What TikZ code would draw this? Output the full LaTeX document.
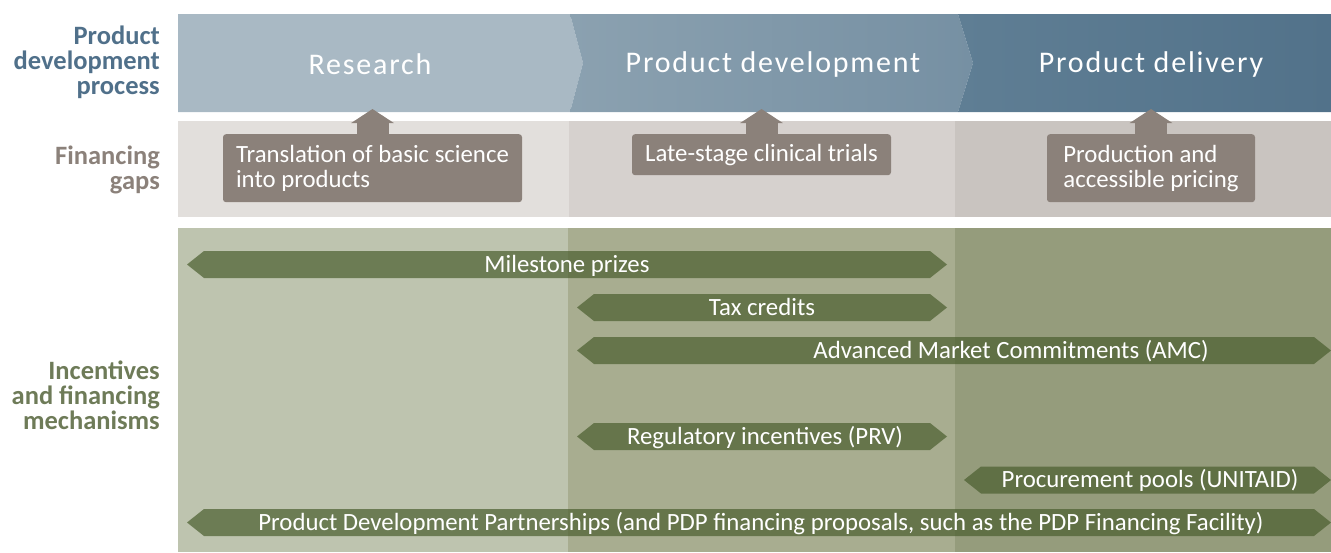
\documentclass[tikz,border=0pt]{standalone}
\usepackage{fontspec}
\setmainfont{Carlito}
\newfontfamily\stagefont[LetterSpace=6]{Carlito}
\usetikzlibrary{arrows.meta}

\definecolor{stageA}{HTML}{A9B9C4}
\definecolor{stageBl}{HTML}{8BA1B0}
\definecolor{stageBr}{HTML}{7690A3}
\definecolor{stageCl}{HTML}{5F7E94}
\definecolor{stageCr}{HTML}{52728A}
\definecolor{gapA}{HTML}{E2DFDC}
\definecolor{gapB}{HTML}{D6D1CE}
\definecolor{gapC}{HTML}{C9C4C0}
\definecolor{gapbrown}{HTML}{8B817A}
\definecolor{mechA}{HTML}{BEC4AF}
\definecolor{mechB}{HTML}{A8AD90}
\definecolor{mechC}{HTML}{959C7C}
\definecolor{mechdark}{HTML}{4A5E2E}
\definecolor{rowblue}{HTML}{50708A}
\definecolor{rowgreen}{HTML}{6E7B58}

\tikzset{
  rowlabel/.style={anchor=east, align=right, inner sep=0pt, font=\bfseries\fontsize{26.5}{25}\selectfont},
  stagetext/.style={text=white, font=\stagefont\fontsize{30}{30}\selectfont},
  gapbox/.style={fill=gapbrown, rounded corners=3pt, text=white, align=left, anchor=north,
    font=\fontsize{24.8}{25}\selectfont, inner sep=0pt},
  gaparrow/.style={gapbrown, line width=32pt, -{Triangle[width=42pt,length=14pt]}},
  barfill/.style={fill=mechdark, fill opacity=0.7},
  bartext/.style={text=white, font=\fontsize{24.8}{25}\selectfont, text height=17pt, text depth=2pt, inner sep=0pt}
}

\begin{document}
\begin{tikzpicture}[x=1pt,y=-1pt]
\useasboundingbox (0,0) rectangle (1331,552);

%% Row labels
\node[rowlabel, text=rowblue] (lblprocess) at (160,62) {Product\\development\\process};
\node[rowlabel, text=gapbrown] (lblgaps) at (160,170) {Financing\\gaps};
\node[rowlabel, text=rowgreen] (lblmech) at (160,395) {Incentives\\and financing\\mechanisms};

%% Product development process: chevrons
\fill[stageA] (178,14) -- (570,14) -- (583,63) -- (570,112) -- (178,112) -- cycle;
\shade[left color=stageBl, right color=stageBr] (570,14) -- (958,14) -- (973,63) -- (958,112) -- (570,112) -- (583,63) -- cycle;
\shade[left color=stageCl, right color=stageCr] (958,14) -- (1331,14) -- (1331,112) -- (958,112) -- (973,63) -- cycle;
\node[stagetext] (research) at (370,64) {Research};
\node[stagetext] (development) at (773,64) {Product development};
\node[stagetext] (delivery) at (1151,64) {Product delivery};

%% Financing gaps: background
\fill[gapA] (178,121) rectangle (569,217);
\fill[gapB] (569,121) rectangle (955,217);
\fill[gapC] (955,121) rectangle (1331,217);

\node[gapbox, minimum width=299pt, minimum height=68pt] (gapresearch) at (372.5,134) {Translation of basic science\\into products};
\node[gapbox, minimum width=259pt, minimum height=41pt] (gapdevelopment) at (761.5,134) {Late-stage clinical trials};
\node[gapbox, minimum width=208pt, minimum height=68pt] (gapdelivery) at (1151,134) {Production and\\accessible pricing};

\coordinate (tipresearch) at (gapresearch.north |- 0,109);
\coordinate (tipdevelopment) at (gapdevelopment.north |- 0,109);
\coordinate (tipdelivery) at (gapdelivery.north |- 0,109);
\draw[gaparrow] ([yshift=-1pt]gapresearch.north) -- (tipresearch);
\draw[gaparrow] ([yshift=-1pt]gapdevelopment.north) -- (tipdevelopment);
\draw[gaparrow] ([yshift=-1pt]gapdelivery.north) -- (tipdelivery);

%% Incentives and financing mechanisms: background
\fill[mechA] (178,228) rectangle (568,552);
\fill[mechB] (568,228) rectangle (955,552);
\fill[mechC] (955,228) rectangle (1331,552);

%% double headed bars
\fill[barfill] (187,264.5) -- (204,251) -- (930,251) -- (947,264.5) -- (930,278) -- (204,278) -- cycle; %%Milestone
\fill[barfill] (577,307.5) -- (594,294) -- (930,294) -- (947,307.5) -- (930,321) -- (594,321) -- cycle; %%Tax
\fill[barfill] (577,350.5) -- (594,337) -- (1314,337) -- (1331,350.5) -- (1314,364) -- (594,364) -- cycle; %%AMC
\fill[barfill] (577,436.5) -- (594,423) -- (930,423) -- (947,436.5) -- (930,450) -- (594,450) -- cycle; %%PRV
\fill[barfill] (964,480) -- (981,466.5) -- (1314,466.5) -- (1331,480) -- (1314,493.5) -- (981,493.5) -- cycle; %%UNITAID
\fill[barfill] (187,522.5) -- (204,509) -- (1314,509) -- (1331,522.5) -- (1314,536) -- (204,536) -- cycle; %%PDP

\node[bartext] (milestone) at (567,264.5) {Milestone prizes};
\node[bartext] (taxcredits) at (762,307.5) {Tax credits};
\node[bartext] (amc) at (1011,350.5) {Advanced Market Commitments (AMC)};
\node[bartext] (prv) at (765,436.5) {Regulatory incentives (PRV)};
\node[bartext] (unitaid) at (1150,480) {Procurement pools (UNITAID)};
\node[bartext] (pdp) at (761,522.5) {Product Development Partnerships (and PDP financing proposals, such as the PDP Financing Facility)};
\end{tikzpicture}
\end{document}
